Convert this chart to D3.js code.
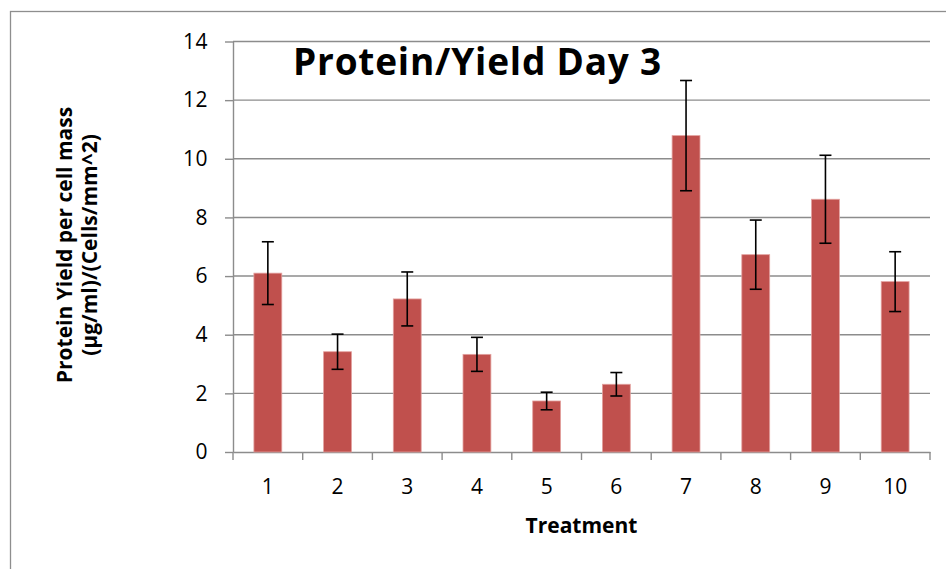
<!DOCTYPE html>
<html>
<head>
<meta charset="utf-8">
<script src="https://cdn.jsdelivr.net/npm/d3@7"></script>
<style>
  html, body { margin: 0; padding: 0; background: #fff; }
  svg { display: block; }
  text { font-family: "Open Sans", "Liberation Sans", sans-serif; fill: #000; }
</style>
</head>
<body>
<svg id="chart" width="946" height="569"></svg>
<script>
// Treatments and mean protein yield per cell mass, with error half-widths
const treatments = ["1", "2", "3", "4", "5", "6", "7", "8", "9", "10"];
const yieldValues = [6.1, 3.42, 5.22, 3.33, 1.74, 2.31, 10.79, 6.73, 8.62, 5.81];
const errorValues = [1.07, 0.6, 0.92, 0.58, 0.3, 0.4, 1.88, 1.18, 1.5, 1.02];
const yTicks = [0, 2, 4, 6, 8, 10, 12, 14];

const titleText = "Protein/Yield Day 3";
const xTitle = "Treatment";
const yTitleLines = ["Protein Yield per cell mass", "(µg/ml)/(Cells/mm^2)"];

const svg = d3.select("#chart");
const plot = { left: 233, right: 930, top: 41.5, bottom: 452 };

// outer chart frame (runs past the right and bottom edges)
svg.append("rect")
  .attr("x", 10.5).attr("y", 11.5)
  .attr("width", 1000).attr("height", 1000)
  .attr("fill", "none").attr("stroke", "#8e8e8e").attr("stroke-width", 1.3);

const x = d3.scaleBand().domain(treatments).range([plot.left, plot.right]).paddingInner(0.6).paddingOuter(0.3);
const xb = d3.scaleBand().domain(treatments).range([plot.left, plot.right]);
const y = d3.scaleLinear().domain([0, 14]).range([plot.bottom, plot.top]);

const grey = "#8c8c8c";

// horizontal gridlines
svg.append("g").selectAll("line").data(yTicks.filter(d => d > 0)).join("line")
  .attr("x1", plot.left).attr("x2", plot.right)
  .attr("y1", d => y(d)).attr("y2", d => y(d))
  .attr("stroke", grey).attr("stroke-width", 1.4);

// y axis
const yAxis = svg.append("g").attr("transform", `translate(${plot.left},0)`)
  .call(d3.axisLeft(y).tickValues(yTicks).tickSize(8).tickPadding(17).tickSizeOuter(0));
yAxis.select(".domain").attr("stroke", grey).attr("stroke-width", 1.4);
yAxis.selectAll(".tick line").attr("stroke", grey).attr("stroke-width", 1.4);
yAxis.selectAll(".tick text").style("font-size", "21px").style("letter-spacing", "0.5px").attr("fill", "#000");

// x axis with tick marks at category boundaries
const xAxis = svg.append("g").attr("transform", `translate(0,${plot.bottom})`)
  .call(d3.axisBottom(x).tickSize(0).tickPadding(27).tickSizeOuter(0));
xAxis.select(".domain").attr("stroke", grey).attr("stroke-width", 1.4);
xAxis.selectAll(".tick text").style("font-size", "21px").attr("fill", "#000");
const bounds = treatments.map(d => xb(d)).concat([plot.right]);
xAxis.append("g").selectAll("line").data(bounds).join("line")
  .attr("x1", d => d).attr("x2", d => d).attr("y1", 0).attr("y2", 8)
  .attr("stroke", grey).attr("stroke-width", 1.4);

// bars
svg.append("g").selectAll("rect").data(treatments).join("rect")
  .attr("x", d => x(d)).attr("width", x.bandwidth())
  .attr("y", (d, i) => y(yieldValues[i]))
  .attr("height", (d, i) => y(0) - y(yieldValues[i]))
  .attr("fill", "#C0504D").attr("stroke", "#e3a19f").attr("stroke-width", 0.8);

// error bars
const eb = svg.append("g").attr("stroke", "#000").attr("stroke-width", 1.6);
treatments.forEach((d, i) => {
  const cx = x(d) + x.bandwidth() / 2;
  const hi = y(yieldValues[i] + errorValues[i]);
  const lo = y(yieldValues[i] - errorValues[i]);
  eb.append("line").attr("x1", cx).attr("x2", cx).attr("y1", hi).attr("y2", lo);
  eb.append("line").attr("x1", cx - 6).attr("x2", cx + 6).attr("y1", hi).attr("y2", hi);
  eb.append("line").attr("x1", cx - 6).attr("x2", cx + 6).attr("y1", lo).attr("y2", lo);
});

// title
svg.append("text").attr("x", 293).attr("y", 75)
  .style("font-size", "37px").style("font-weight", "bold").style("letter-spacing", "0.8px")
  .text(titleText);

// x axis title
svg.append("text").attr("x", (plot.left + plot.right) / 2).attr("y", 533)
  .attr("text-anchor", "middle").style("font-size", "21px").style("font-weight", "bold")
  .text(xTitle);

// y axis title (two lines, rotated)
const yt = svg.append("text").attr("transform", "translate(0,245) rotate(-90)")
  .attr("text-anchor", "middle").style("font-size", "21px").style("font-weight", "bold");
yt.selectAll("tspan").data(yTitleLines).join("tspan")
  .attr("x", 0).attr("y", (d, i) => 72 + i * 25).text(d => d);
</script>
</body>
</html>
